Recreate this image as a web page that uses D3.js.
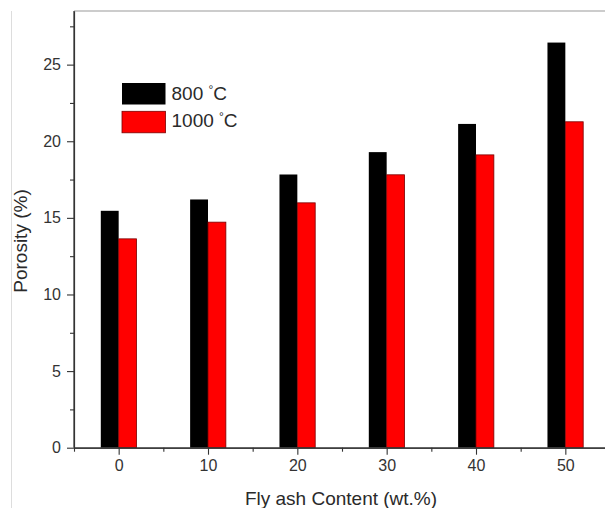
<!DOCTYPE html>
<html>
<head>
<meta charset="utf-8">
<script src="https://cdn.jsdelivr.net/npm/d3@7/dist/d3.min.js"></script>
<style>
  body { margin: 0; background: #fff; }
  svg text { font-family: "Liberation Sans", Arial, sans-serif; fill: #2a2a2a; }
</style>
</head>
<body>
<svg id="chart" width="605" height="508"></svg>
<script>
// data
let content = [0, 10, 20, 30, 40, 50]
let por800 = [15.46, 16.2, 17.83, 19.29, 21.13, 26.44]
let por1000 = [13.63, 14.72, 15.98, 17.81, 19.11, 21.27]
let yTicks = [0, 5, 10, 15, 20, 25]
let seriesNames = ["800 \u00b0C", "1000 \u00b0C"]

let svg = d3.select("#chart")

let x = d3.scaleLinear().domain([-5, 55]).range([74, 610])
let y = d3.scaleLinear().domain([0, 28.5]).range([447.7, 11])
let barW = 2 // bar width in wt.% units

// page edge line on the left
svg.append("line")
  .attr("x1", 11.5).attr("x2", 11.5).attr("y1", 11).attr("y2", 508)
  .style("stroke", "#ddd").style("stroke-width", 1)

// top frame line
svg.append("line")
  .attr("x1", x(-5)).attr("x2", 605).attr("y1", y(28.5)).attr("y2", y(28.5))
  .style("stroke", "#999").style("stroke-width", 1)

// bars
let bars = svg.append("g")
bars.selectAll(".b800")
  .data(content)
  .join("rect")
  .attr("class", "b800")
  .attr("x", (d) => x(d - barW))
  .attr("width", (d) => x(d) - x(d - barW))
  .attr("y", (d, i) => y(por800[i]))
  .attr("height", (d, i) => y(0) - y(por800[i]))
  .attr("fill", "#000")

bars.selectAll(".b1000")
  .data(content)
  .join("rect")
  .attr("class", "b1000")
  .attr("x", (d) => x(d))
  .attr("width", (d) => x(d + barW) - x(d))
  .attr("y", (d, i) => y(por1000[i]))
  .attr("height", (d, i) => y(0) - y(por1000[i]))
  .attr("fill", "#ff0000")
  .style("stroke", "#7a0000")
  .style("stroke-width", 0.8)

// axes
let xAxis = svg.append("g")
  .attr("transform", `translate(0,${y(0)})`)
  .call(d3.axisBottom(x).tickValues(content).tickSize(7).tickPadding(5).tickSizeOuter(0))
xAxis.append("g")
  .call(d3.axisBottom(x).tickValues([-5, 5, 15, 25, 35, 45]).tickSize(4).tickFormat("").tickSizeOuter(0))

let yAxis = svg.append("g")
  .attr("transform", `translate(${x(-5)},0)`)
  .call(d3.axisLeft(y).tickValues(yTicks).tickSize(7).tickPadding(6).tickSizeOuter(0))
yAxis.append("g")
  .call(d3.axisLeft(y).tickValues([2.5, 7.5, 12.5, 17.5, 22.5, 27.5]).tickSize(4).tickFormat("").tickSizeOuter(0))

svg.selectAll(".domain").style("stroke", "#333").style("stroke-width", 1.2)
svg.selectAll(".tick line").style("stroke", "#333").style("stroke-width", 1.1)
svg.selectAll(".tick text").style("font-size", "16px").style("fill", "#333")
// y axis domain should span full height
yAxis.select(".domain").attr("d", `M0,${y(0)}V${y(28.5)}`)

// axis titles
svg.append("text")
  .attr("x", 341).attr("y", 505)
  .attr("text-anchor", "middle")
  .style("font-size", "19px")
  .text("Fly ash Content (wt.%)")

svg.append("text")
  .attr("transform", "translate(27,241) rotate(-90)")
  .attr("text-anchor", "middle")
  .style("font-size", "19px")
  .text("Porosity (%)")

// legend
let legend = svg.append("g")
let legColors = ["#000", "#ff0000"]
legend.selectAll("rect")
  .data(seriesNames)
  .join("rect")
  .attr("x", 122)
  .attr("y", (d, i) => 83 + i * 28.3)
  .attr("width", 43.5)
  .attr("height", 21.5)
  .attr("fill", (d, i) => legColors[i])
  .style("stroke", (d, i) => i == 1 ? "#7a0000" : "none")
  .style("stroke-width", 0.8)

legend.selectAll("text")
  .data(seriesNames)
  .join("text")
  .attr("x", 171.5)
  .attr("y", (d, i) => 100 + i * 27.3)
  .style("font-size", "19px")
  .html((d) => {
    let parts = d.split(" ")
    return parts[0] + ' <tspan dy="-6" style="font-size:12px">\u00b0</tspan><tspan dy="6">C</tspan>'
  })
</script>
</body>
</html>
